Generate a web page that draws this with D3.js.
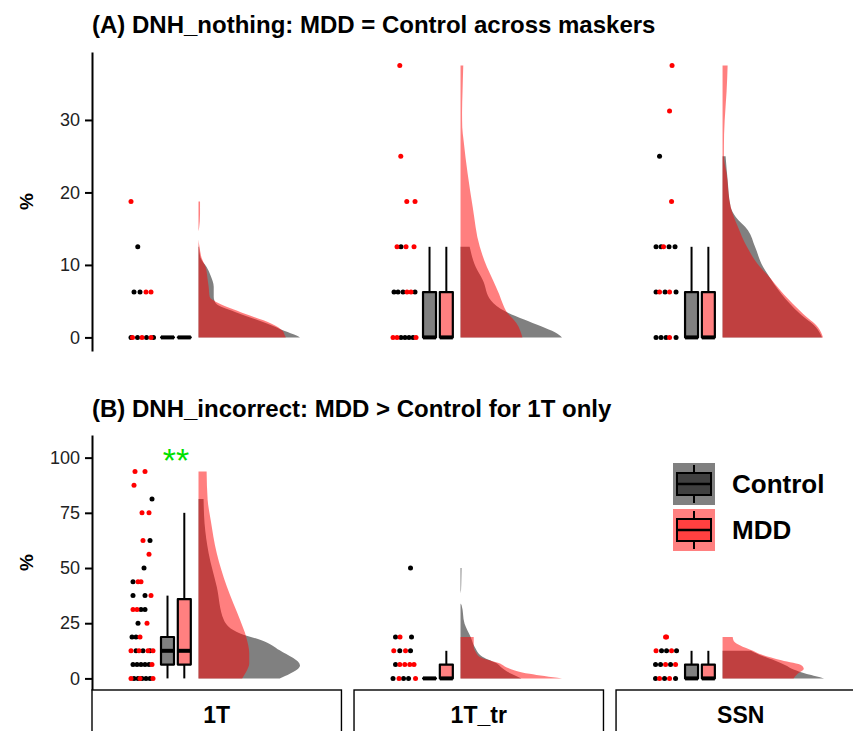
<!DOCTYPE html>
<html>
<head>
<meta charset="utf-8">
<script src="https://cdn.jsdelivr.net/npm/d3@7"></script>
<style>
body { margin: 0; background: #fff; }
text { font-family: "Liberation Sans", Arial, sans-serif; }
</style>
</head>
<body>
<div id="chart"></div>
<script>
var maskers = ["1T", "1T_tr", "SSN"];
var groups = ["Control", "MDD"];
var titleA = "(A) DNH_nothing: MDD = Control across maskers";
var titleB = "(B) DNH_incorrect: MDD > Control for 1T only";
var ticksA = [0, 10, 20, 30];
var ticksB = [0, 25, 50, 75, 100];
var starLabel = "**";
var starValue = 105;

// raw scores (%) and the horizontal jitter (0-1)
var nothing1TControl = [[12.5,.31],[6.25,.16],[6.25,.4],[0,.04],[0,.3],[0,.66],[0,.94]];
var nothing1TMDD = [[18.75,.04],[6.25,.64],[6.25,.84],[0,.1],[0,.48],[0,.84]];
var nothing1TtrControl = [[12.5,.36],[6.25,.08],[6.25,.24],[6.25,.44],[6.25,.92],[0,.36],[0,.52],[0,.68],[0,.84]];
var nothing1TtrMDD = [[37.5,.31],[25,.35],[18.75,.59],[18.75,.92],[12.5,.2],[12.5,.56],[12.5,.88],[6.25,.6],[6.25,.76],[0,.04],[0,.2],[0,.96]];
var nothingSSNControl = [[25,.22],[12.5,.08],[12.5,.28],[12.5,.6],[12.5,.84],[6.25,.08],[6.25,.44],[6.25,.88],[0,.08],[0,.28],[0,.48],[0,.88]];
var nothingSSNMDD = [[37.5,.72],[31.25,.62],[18.75,.7],[12.5,.38],[6.25,.22],[6.25,.62],[0,.62]];

var incorrect1TControl = [[81.25,.88],[62.5,.8],[50,.56],[43.75,.12],[37.5,.12],[37.5,.6],[31.25,.44],[31.25,.6],[25,.32],
  [18.75,.08],[18.75,.24],[12.5,.24],[12.5,.52],[12.5,.8],[6.25,.12],[6.25,.28],[6.25,.44],[6.25,.6],[6.25,.76],
  [0,.16],[0,.32],[0,.48],[0,.64],[0,.8]];
var incorrect1TMDD = [[93.75,.2],[93.75,.6],[87.5,.16],[75,.48],[75,.76],[62.5,.52],[56.25,.76],[43.75,.32],[43.75,.44],
  [37.5,.84],[31.25,.12],[31.25,.28],[25,.68],[18.75,.4],[12.5,.04],[12.5,.36],[12.5,.72],[12.5,.92],[6.25,.88],
  [0,.04],[0,.4],[0,.92]];
var incorrect1TtrControl = [[50,.74],[18.75,.14],[18.75,.78],[12.5,.31],[12.5,.74],[6.25,.14],[0,.04],[0,.46],[0,.66]];
var incorrect1TtrMDD = [[18.75,.32],[12.5,.07],[12.5,.54],[6.25,.31],[6.25,.51],[6.25,.71],[6.25,.88],[0,.28],[0,.94]];
var incorrectSSNControl = [[12.5,.3],[12.5,.5],[12.5,.9],[6.25,.06],[6.25,.26],[6.25,.66],[0,.06],[0,.42],[0,.86]];
var incorrectSSNMDD = [[18.75,.46],[18.75,.5],[12.5,.08],[12.5,.7],[6.25,.46],[6.25,.86],[0,.22],[0,.62]];

// box stats per masker: [lower, q1, median, q3, upper]
var nothingBoxControl = [[0,0,0,0,0],[0,0,0,6.25,12.5],[0,0,0,6.25,12.5]];
var nothingBoxMDD = [[0,0,0,0,0],[0,0,0,6.25,12.5],[0,0,0,6.25,12.5]];
var incorrectBoxControl = [[0,6.25,12.5,18.75,37.5],[0,0,0,0,0],[0,0,0,6.25,12.5]];
var incorrectBoxMDD = [[0,6.25,12.5,35.9,75],[0,0,0,6.25,12.5],[0,0,0,6.25,12.5]];

// half-violin outlines: [value, relative width]
var nothing1TControlDens = [[12.5,.005],[11,.02],[9.7,.08],[8.5,.12],[7,.15],[5.6,.15],[4.7,.17],[3.3,.4],[1.9,.68],[0.9,.85],[0.3,.96],[0,1]];
var nothing1TMDDDens = [[18.75,.015],[17,.015],[15,.005],[14.6,0],[13.5,0],[12.5,.01],[11,.03],[9.7,.07],[8,.09],[7,.1],[5.6,.11],[4.7,.2],[3.3,.45],[1.9,.72],[0.9,.83],[0.3,.85],[0,.86]];
var nothing1TtrControlDens = [[12.5,.09],[9.7,.15],[7.9,.22],[5.1,.3],[3.6,.44],[2.5,.62],[1.5,.8],[0.7,.93],[0,1]];
var nothing1TtrMDDDens = [[37.5,.027],[34,.02],[31,.015],[29,.017],[27.2,.03],[22.6,.07],[18,.12],[12.5,.19],[9.7,.26],[7.9,.32],[6,.38],[4.5,.42],[3.6,.45],[2,.55],[0,.61]];
var nothingSSNControlDens = [[25,.03],[21.7,.05],[18,.08],[16.6,.13],[14.8,.25],[12.5,.32],[9.7,.4],[8.8,.44],[6,.58],[3.3,.76],[1.4,.92],[0,.98]];
var nothingSSNMDDDens = [[37.5,.05],[34,.04],[31.9,.03],[28,.015],[25,.013],[22.6,.04],[18,.08],[15.3,.15],[12.5,.24],[9.7,.37],[8.8,.43],[6,.6],[3.3,.79],[1.4,.94],[0,.99]];
var incorrect1TControlDens = [[81.25,.05],[70,.06],[56.7,.1],[41.5,.18],[26.4,.25],[20.3,.41],[17.3,.62],[12.7,.8],[5.9,1],[2.1,.9],[0,.8]];
var incorrect1TMDDDens = [[93.75,.08],[80.9,.09],[71.8,.12],[56.7,.18],[41.5,.28],[26.4,.41],[18.8,.47],[11.2,.5],[6.7,.5],[3,.47],[0,.43]];
var incorrect1TtrControlDens = [[50,.01],[45,.008],[40,.005],[38.5,0],[34,0],[33.2,.01],[24.8,.04],[18.8,.1],[14.2,.14],[9.7,.22],[6.7,.36],[5.1,.4],[2.1,.5],[0,.6]];
var incorrect1TtrMDDDens = [[18.75,.13],[14.2,.13],[12,.15],[9.7,.19],[6.7,.39],[5.1,.45],[2.1,.68],[0,1]];
var incorrectSSNControlDens = [[12.5,.28],[10,.4],[8,.52],[6,.62],[4,.7],[2,.83],[1,.92],[0,1]];
var incorrectSSNMDDDens = [[18.75,.1],[17,.11],[15,.17],[12.5,.3],[11.2,.36],[8.2,.58],[5.9,.78],[4.4,.8],[2.1,.74],[0,.7]];

var svg = d3.select("#chart").append("svg")
  .attr("width", 853)
  .attr("height", 731);

var fx = d3.scaleBand().domain(maskers).range([92, 865.5]).paddingInner(0.048);
var jitterX = d3.scaleLinear().domain([0, 1]).range([38, 63]);
var groupX = d3.scalePoint().domain(groups).range([75.5, 92.3]);
var densW = d3.scaleLinear().domain([0, 1]).range([0, 101.5]);
var densBase = 106.5;
var boxHalf = 6.5;
var boxFill = {Control: "#808080", MDD: "#ff8080"};
var dotFill = {Control: "#000000", MDD: "#ff0000"};

function drawPanel(p) {
  var y = d3.scaleLinear().domain(p.domain).range([p.bottom, p.top]);
  var g = svg.append("g");

  g.append("text")
    .attr("x", 92).attr("y", p.titleY)
    .attr("font-size", 24).attr("font-weight", "bold")
    .text(p.title);

  g.append("text")
    .attr("transform", "translate(33," + ((p.top + p.bottom) / 2) + ") rotate(-90)")
    .attr("text-anchor", "middle")
    .attr("font-size", 19).attr("font-weight", "bold")
    .text("%");

  var ax = g.append("g")
    .attr("transform", "translate(92,0)")
    .call(d3.axisLeft(y).tickValues(p.ticks).tickSize(7).tickSizeOuter(0).tickPadding(5));
  ax.select(".domain").attr("stroke", "#000").attr("stroke-width", 2);
  ax.selectAll(".tick line").attr("stroke", "#000").attr("stroke-width", 2);
  ax.selectAll(".tick text").attr("font-size", 18).attr("fill", "#222")
    .attr("font-family", "Liberation Sans, Arial, sans-serif");

  var area = d3.area()
    .curve(d3.curveMonotoneY)
    .y(function (d) { return y(d[0]); })
    .x0(densBase)
    .x1(function (d) { return densBase + densW(d[1]); });

  maskers.forEach(function (m, i) {
    var fg = g.append("g").attr("transform", "translate(" + fx(m) + ",0)");

    fg.append("path").datum(p.dens.Control[i]).attr("d", area).attr("fill", "#808080");
    fg.append("path").datum(p.dens.MDD[i]).attr("d", area).attr("fill", "#ff0000").attr("fill-opacity", 0.5);

    groups.forEach(function (grp) {
      fg.append("g")
        .selectAll("circle")
        .data(p.points[grp][i])
        .enter()
        .append("circle")
        .attr("cx", function (d) { return jitterX(d[1]); })
        .attr("cy", function (d) { return y(d[0]); })
        .attr("r", 2.5)
        .attr("fill", dotFill[grp]);
    });

    groups.forEach(function (grp) {
      var b = p.box[grp][i];
      var cx = groupX(grp);
      var bg = fg.append("g").attr("stroke", "#000");
      bg.append("line").attr("x1", cx).attr("x2", cx).attr("y1", y(b[3])).attr("y2", y(b[4])).attr("stroke-width", 2);
      bg.append("line").attr("x1", cx).attr("x2", cx).attr("y1", y(b[0])).attr("y2", y(b[1])).attr("stroke-width", 2);
      bg.append("path")
        .attr("d", "M" + (cx - boxHalf) + "," + y(b[3]) + "H" + (cx + boxHalf) + "V" + y(b[1]) + "H" + (cx - boxHalf) + "Z")
        .attr("fill", boxFill[grp]).attr("stroke-width", 2.2).attr("stroke-linejoin", "round");
      bg.append("line").attr("x1", cx - boxHalf).attr("x2", cx + boxHalf)
        .attr("y1", y(b[2])).attr("y2", y(b[2])).attr("stroke-width", 4);
    });
  });
  return y;
}

drawPanel({
  title: titleA, titleY: 33, domain: [-1.875, 39.375], top: 52, bottom: 351, ticks: ticksA,
  points: {Control: [nothing1TControl, nothing1TtrControl, nothingSSNControl], MDD: [nothing1TMDD, nothing1TtrMDD, nothingSSNMDD]},
  box: {Control: nothingBoxControl, MDD: nothingBoxMDD},
  dens: {Control: [nothing1TControlDens, nothing1TtrControlDens, nothingSSNControlDens], MDD: [nothing1TMDDDens, nothing1TtrMDDDens, nothingSSNMDDDens]}
});

var yB = drawPanel({
  title: titleB, titleY: 417, domain: [-5.25, 110.25], top: 435, bottom: 690, ticks: ticksB,
  points: {Control: [incorrect1TControl, incorrect1TtrControl, incorrectSSNControl], MDD: [incorrect1TMDD, incorrect1TtrMDD, incorrectSSNMDD]},
  box: {Control: incorrectBoxControl, MDD: incorrectBoxMDD},
  dens: {Control: [incorrect1TControlDens, incorrect1TtrControlDens, incorrectSSNControlDens], MDD: [incorrect1TMDDDens, incorrect1TtrMDDDens, incorrectSSNMDDDens]}
});

// significance stars over 1T
svg.append("text")
  .attr("x", fx("1T") + 84)
  .attr("y", yB(starValue) + 25)
  .attr("text-anchor", "middle")
  .attr("font-size", 34)
  .attr("fill", "#00e000")
  .text(starLabel);

// facet strips
var strip = svg.append("g")
  .selectAll("g")
  .data(maskers)
  .enter()
  .append("g")
  .attr("transform", function (d) { return "translate(" + fx(d) + ",690)"; });
strip.append("rect")
  .attr("width", fx.bandwidth()).attr("height", 50)
  .attr("fill", "#fff").attr("stroke", "#000").attr("stroke-width", 1.4);
strip.append("text")
  .attr("x", fx.bandwidth() / 2).attr("y", 33)
  .attr("text-anchor", "middle")
  .attr("font-size", 23).attr("font-weight", "bold")
  .text(function (d) { return d; });

// legend
var legend = svg.append("g")
  .selectAll("g")
  .data(groups)
  .enter()
  .append("g")
  .attr("transform", function (d, i) { return "translate(673," + (463 + i * 46) + ")"; });
legend.append("rect")
  .attr("width", 42).attr("height", 42)
  .attr("fill", function (d) { return d === "Control" ? "#808080" : "#ff8080"; });
legend.append("line")
  .attr("x1", 21).attr("x2", 21).attr("y1", 2).attr("y2", 40)
  .attr("stroke", "#000").attr("stroke-width", 2);
legend.append("rect")
  .attr("x", 4).attr("y", 10).attr("width", 34).attr("height", 22)
  .attr("fill", function (d) { return d === "Control" ? "#404040" : "#ff4040"; })
  .attr("stroke", "#000").attr("stroke-width", 2);
legend.append("line")
  .attr("x1", 4).attr("x2", 38).attr("y1", 21).attr("y2", 21)
  .attr("stroke", "#000").attr("stroke-width", 2.5);
legend.append("text")
  .attr("x", 59).attr("y", 30)
  .attr("font-size", 26).attr("font-weight", "bold")
  .text(function (d) { return d; });
</script>
</body>
</html>
